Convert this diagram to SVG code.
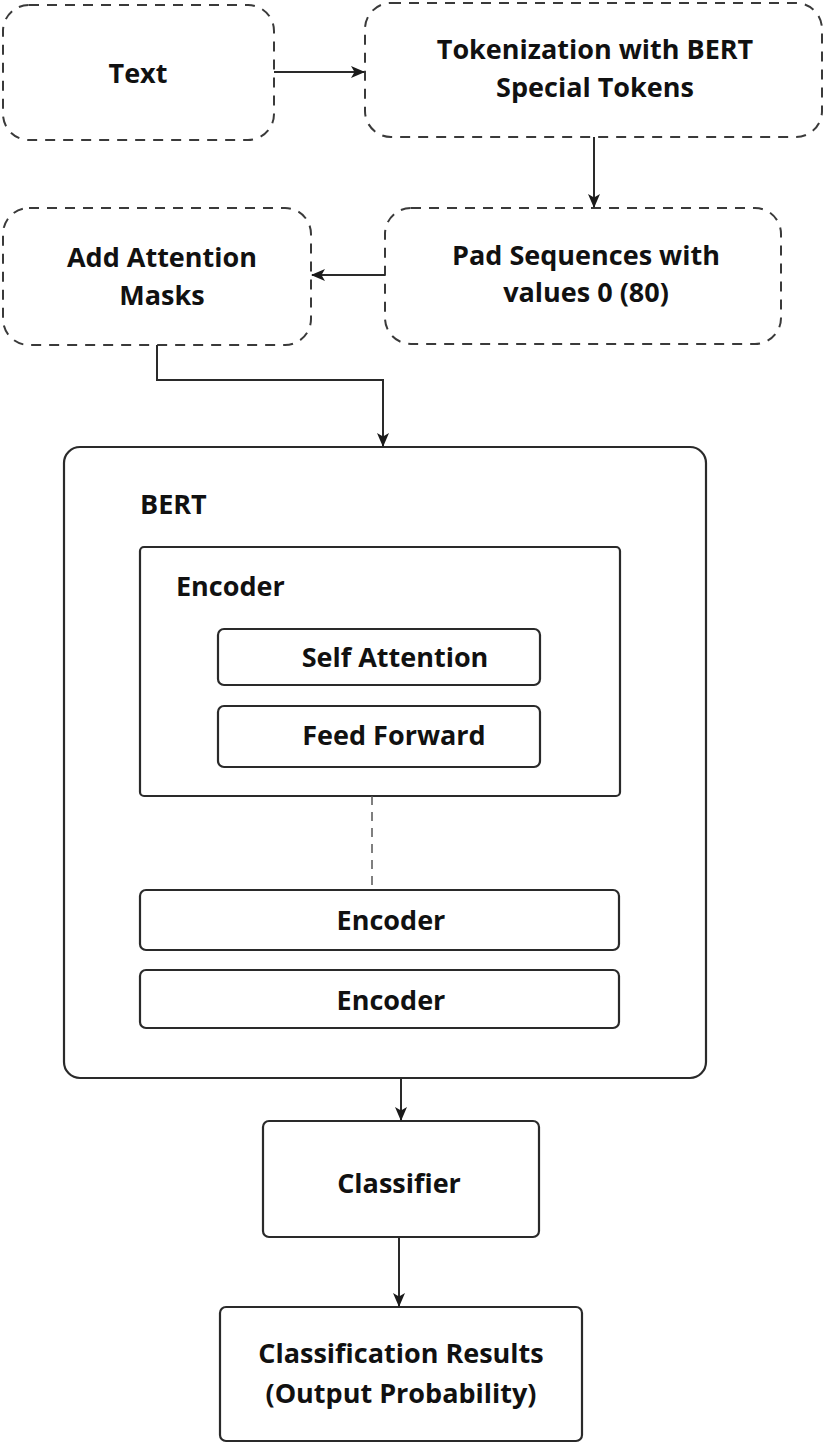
<svg xmlns="http://www.w3.org/2000/svg" width="826" height="1446" viewBox="0 0 826 1446">
<style>
.dash{fill:#fff;stroke:#3a3a3a;stroke-width:2;stroke-dasharray:10 8}
.solid{fill:#fff;stroke:#2a2a2a;stroke-width:2.2}
.t{font-family:"Open Sans","Liberation Sans",sans-serif;font-weight:700;font-size:27px;fill:#111;text-anchor:middle}
.tl{text-anchor:start}
.c{fill:none;stroke:#2a2a2a;stroke-width:2}
</style>
<defs>
<marker id="ah" viewBox="0 0 14 12" refX="13" refY="6" markerWidth="14" markerHeight="12" markerUnits="userSpaceOnUse" orient="auto">
<path d="M0,0 L14,6 L0,12 L3.5,6 Z" fill="#1a1a1a"/>
</marker>
</defs>
<rect width="826" height="1446" fill="#fff"/>
<g id="n-text"><rect class="dash" x="3" y="5" width="271" height="135" rx="26"/><text class="t" x="138" y="83">Text</text></g>
<g id="n-token"><rect class="dash" x="365" y="3" width="457" height="134" rx="26"/><text class="t" x="595" y="59">Tokenization with BERT</text><text class="t" x="595" y="97">Special Tokens</text></g>
<g id="n-pad"><rect class="dash" x="385" y="208" width="396" height="136" rx="26"/><text class="t" x="586" y="265">Pad Sequences with</text><text class="t" x="586" y="302">values 0 (80)</text></g>
<g id="n-mask"><rect class="dash" x="3" y="208" width="308" height="137" rx="26"/><text class="t" x="162" y="267">Add Attention</text><text class="t" x="162" y="305">Masks</text></g>
<g id="n-bert"><rect class="solid" x="64" y="447" width="642" height="631" rx="16"/><text class="t tl" x="140" y="514">BERT</text></g>
<g id="n-enc1"><rect class="solid" x="140" y="547" width="480" height="249" rx="4"/><text class="t tl" x="176" y="596">Encoder</text></g>
<g id="n-self"><rect class="solid" x="218" y="629" width="322" height="56" rx="6"/><text class="t" x="395" y="667">Self Attention</text></g>
<g id="n-ff"><rect class="solid" x="218" y="706" width="322" height="61" rx="6"/><text class="t" x="394" y="745">Feed Forward</text></g>
<g id="n-enc2"><rect class="solid" x="140" y="890" width="479" height="60" rx="6"/><text class="t" x="391" y="930">Encoder</text></g>
<g id="n-enc3"><rect class="solid" x="140" y="970" width="479" height="58" rx="6"/><text class="t" x="391" y="1010">Encoder</text></g>
<g id="n-cls"><rect class="solid" x="263" y="1121" width="276" height="116" rx="6"/><text class="t" x="399" y="1193">Classifier</text></g>
<g id="n-res"><rect class="solid" x="220" y="1307" width="362" height="134" rx="6"/><text class="t" x="401" y="1363">Classification Results</text><text class="t" x="401" y="1403">(Output Probability)</text></g>
<g id="connectors">
<line class="c" x1="274" y1="72" x2="364" y2="72" marker-end="url(#ah)"/>
<line class="c" x1="594" y1="137" x2="594" y2="207" marker-end="url(#ah)"/>
<line class="c" x1="385" y1="275" x2="312" y2="275" marker-end="url(#ah)"/>
<polyline class="c" points="157,345 157,380 383,380 383,446" marker-end="url(#ah)"/>
<line x1="372" y1="796" x2="372" y2="888" stroke="#555" stroke-width="1.5" stroke-dasharray="9 7"/>
<line class="c" x1="401" y1="1078" x2="401" y2="1120" marker-end="url(#ah)"/>
<line class="c" x1="399" y1="1237" x2="399" y2="1306" marker-end="url(#ah)"/>
</g>
</svg>
